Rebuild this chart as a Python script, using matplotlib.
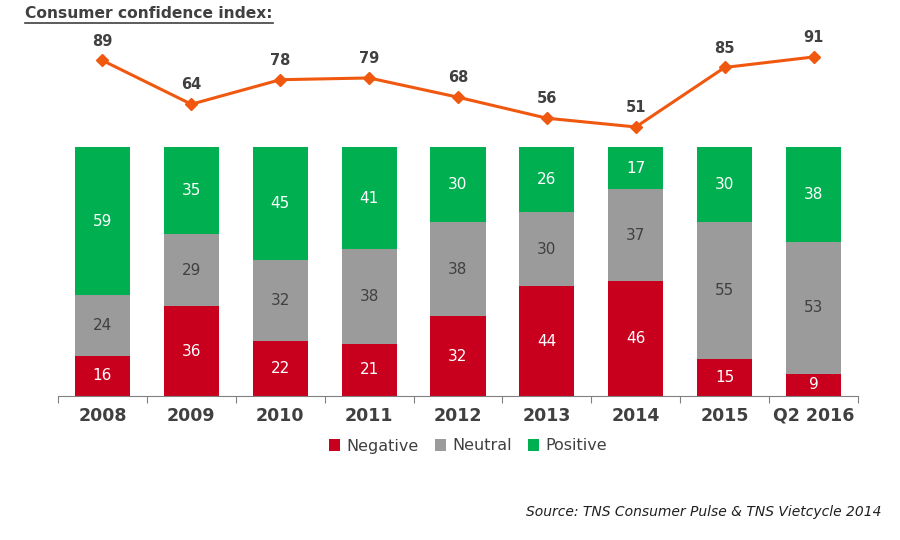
"""
Consumer confidence index - stacked bars + line
"""
import numpy as np
import matplotlib
matplotlib.use("Agg")
import matplotlib.pyplot as plt
from matplotlib.lines import Line2D

plt.rcParams['font.family'] = ['DejaVu Sans']

# data
years = ['2008', '2009', '2010', '2011', '2012', '2013', '2014', '2015', 'Q2 2016']
negative = [16, 36, 22, 21, 32, 44, 46, 15, 9]
neutral = [24, 29, 32, 38, 38, 30, 37, 55, 53]
positive = [59, 35, 45, 41, 30, 26, 17, 30, 38]
cci = [89, 64, 78, 79, 68, 56, 51, 85, 91]

c_neg = '#C8001E'
c_neu = '#9B9B9B'
c_pos = '#00B050'
c_line = '#F0580F'
c_txt = '#404040'

fig = plt.figure(figsize=(9, 5.4), dpi=100, facecolor='w')
ax = fig.add_axes([58 / 900, 1 - 396 / 540, 800 / 900, 366 / 540])
x = np.arange(len(years))
w = 0.62

neg = np.array(negative)
neu = np.array(neutral)
pos = np.array(positive)
# bars are shown as 100% stacks
tot = (neg + neu + pos) / 100.0
hn, hu, hp = neg / tot, neu / tot, pos / tot
ax.bar(x, hn, w, color=c_neg, label='Negative')
ax.bar(x, hu, w, bottom=hn, color=c_neu, label='Neutral')
ax.bar(x, hp, w, bottom=hn + hu, color=c_pos, label='Positive')

for i in range(len(x)):
    ax.text(x[i], hn[i] / 2, str(neg[i]), ha='center', va='center', color='w', fontsize=11)
    ax.text(x[i], hn[i] + hu[i] / 2, str(neu[i]), ha='center', va='center', color=c_txt, fontsize=11)
    ax.text(x[i], hn[i] + hu[i] + hp[i] / 2, str(pos[i]), ha='center', va='center', color='w', fontsize=11)

ax.set_xlim(-0.5, len(x) - 0.5)
ax.set_ylim(0, 147)
ax.set_yticks([])
for s in ['top', 'right', 'left']:
    ax.spines[s].set_visible(False)
ax.spines['bottom'].set_color('#808080')
ax.set_xticks(np.arange(-0.5, len(x), 1.0))
ax.set_xticklabels([])
ax.tick_params(axis='x', length=5, color='#808080')
for i, y in enumerate(years):
    ax.text(x[i], -8, y, ha='center', va='center', fontsize=12.5, fontweight='bold', color=c_txt)
ax.patch.set_alpha(0)

# line on twin axis
ax2 = ax.twinx()
ax2.set_ylim(-102.7, 106.4)
ax2.plot(x, cci, color=c_line, lw=2.2, marker='D', markersize=6.5, zorder=3)
for i, v in enumerate(cci):
    ax2.text(x[i], v + 11, str(v), ha='center', va='center', fontsize=10.5, fontweight='bold', color=c_txt)
ax2.set_yticks([])
for s in ['top', 'right', 'left', 'bottom']:
    ax2.spines[s].set_visible(False)

# legend
leg = ax.legend(loc='center', bbox_to_anchor=(468 / 900, 1 - 446 / 540), bbox_transform=fig.transFigure,
                ncol=3, frameon=False, fontsize=11.5, handlelength=0.7, handleheight=0.7,
                handletextpad=0.4, columnspacing=1.0)
for t in leg.get_texts():
    t.set_color(c_txt)

# title with underline
title = fig.text(25 / 900, 1 - 14 / 540, 'Consumer confidence index:', ha='left', va='center',
                 fontsize=11.2, fontweight='bold', color=c_txt)
fig.canvas.draw()
bb = title.get_window_extent()
fig.add_artist(Line2D([bb.x0 / 900, bb.x1 / 900], [1 - 23 / 540, 1 - 23 / 540],
                      color=c_txt, lw=1.2, transform=fig.transFigure))

fig.text(882 / 900, 1 - 512 / 540, 'Source: TNS Consumer Pulse & TNS Vietcycle 2014',
         ha='right', va='center', fontsize=10, style='italic', color='#202020')

fig.savefig('out.png', dpi=100, facecolor='w')
